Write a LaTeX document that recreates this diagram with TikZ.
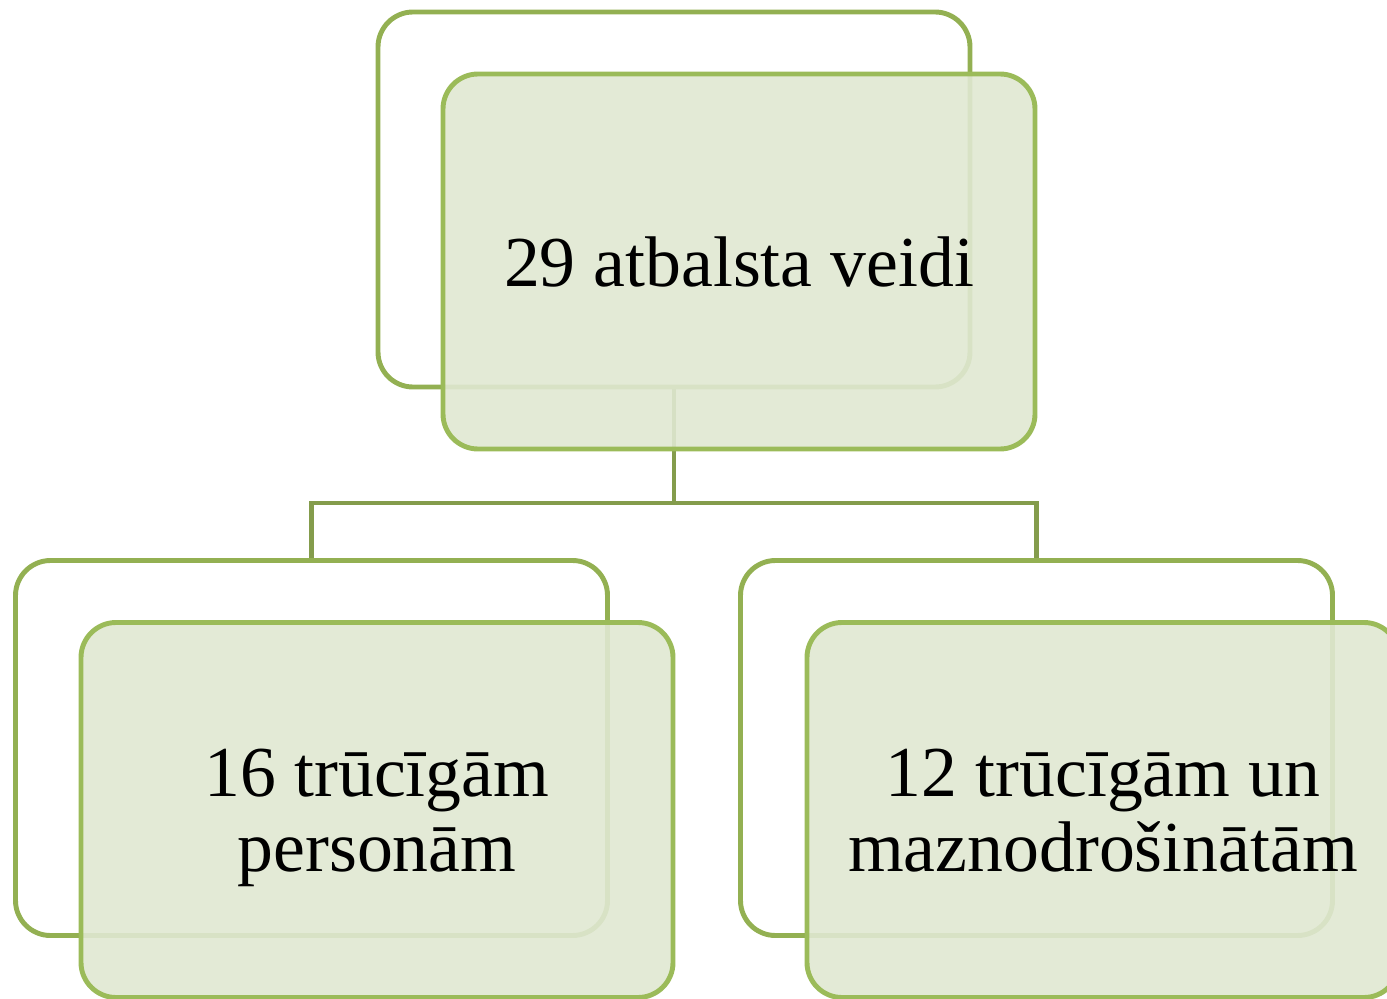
\documentclass[tikz,border=0pt]{standalone}
\usepackage{fontspec}
\setmainfont{Liberation Serif}
\definecolor{boxline}{HTML}{9BBB59}
\definecolor{backline}{HTML}{93B052}
\definecolor{boxfill}{HTML}{E0E8D2}
\definecolor{linkline}{HTML}{849C4C}
\begin{document}
\begin{tikzpicture}[
		backbox/.style={draw=backline, line width=2.8pt, rounded corners=0.7cm,
			minimum width=11.84cm, minimum height=7.5cm, inner sep=0pt},
		frontbox/.style={draw=boxline, line width=2.8pt, rounded corners=0.7cm,
			fill=boxfill, fill opacity=0.9, text opacity=1,
			minimum width=11.84cm, minimum height=7.5cm, align=center,
			text depth=0pt, font=\fontsize{40.8}{42.5}\selectfont},
		link/.style={draw=linkline, line width=2.8pt}
	]
	\useasboundingbox (0,0) rectangle (27.74,-19.98);
	\clip (0,0) rectangle (27.74,-19.98);
	% back boxes
	\node[backbox] (topback) at (13.48,-3.99) {};
	\node[backbox] (leftback) at (6.23,-14.96) {};
	\node[backbox] (rightback) at (20.73,-14.96) {};
	% links
	\coordinate (split) at (13.48,-10.06);
	\draw[link] (topback.south) -- (split);
	\foreach \b in {leftback,rightback}{
		\draw[link] (split) -| (\b.north);
	}
	% front boxes
	\node[frontbox] (top) at ([shift={(1.3,-1.24)}]topback) {29 atbalsta veidi};
	\node[frontbox] (left) at ([shift={(1.31,-1.24)}]leftback) {16 trūcīgām\\personām};
	\node[frontbox] (right) at ([shift={(1.33,-1.24)}]rightback) {12 trūcīgām un\\maznodrošinātām};
\end{tikzpicture}
\end{document}
